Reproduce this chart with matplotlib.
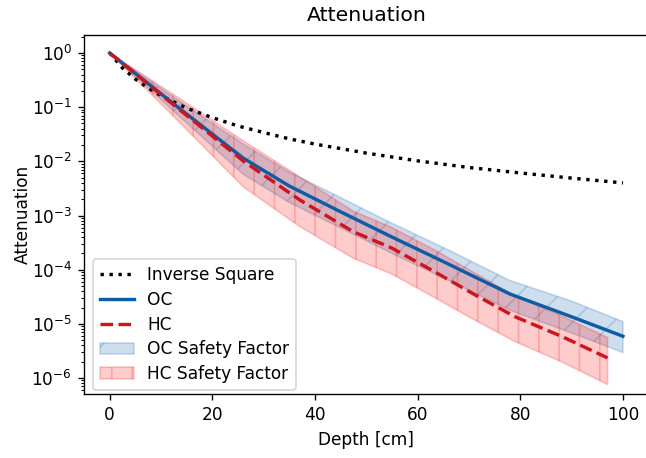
import matplotlib
matplotlib.use("Agg")
import matplotlib.pyplot as plt
from matplotlib.ticker import LogLocator

# ---- data ----
inv_depth = [0, 2.5, 5, 7.5, 10, 15, 20, 25, 30, 35, 40, 50, 60, 70, 80, 90, 100]
inv_att = [1.0, 0.53, 0.33, 0.225, 0.163, 0.096, 0.064, 0.045, 0.034, 0.026,
           0.0208, 0.0142, 0.0102, 0.0077, 0.0061, 0.0049, 0.0040]

oc_depth = [0, 13, 26, 35, 45, 55, 65, 78, 90, 100]
oc_att = [1.0, 0.105, 0.0115, 0.0035, 0.00117, 4.0e-4, 1.41e-4, 3.55e-5, 1.35e-5, 5.9e-6]
oc_upper = [1.0, 0.141, 0.0209, 0.0063, 0.00214, 7.2e-4, 2.57e-4, 6.3e-5, 2.63e-5, 1.10e-5]
oc_lower = [1.0, 0.076, 0.0058, 0.00174, 5.9e-4, 2.0e-4, 7.1e-5, 1.78e-5, 6.8e-6, 2.95e-6]

hc_depth = [0, 13, 26, 37, 47.5, 55, 63, 71.5, 79, 88, 97]
hc_att = [1.0, 0.10, 0.0102, 0.00195, 5.0e-4, 2.5e-4, 9.5e-5, 3.3e-5, 1.35e-5, 5.9e-6, 2.35e-6]
hc_upper = [1.0, 0.158, 0.024, 0.0052, 0.0012, 6.0e-4, 2.4e-4, 8.3e-5, 3.3e-5, 1.41e-5, 5.6e-6]
hc_lower = [1.0, 0.060, 0.0034, 6.3e-4, 1.62e-4, 8.3e-5, 3.16e-5, 1.12e-5, 4.7e-6, 2.0e-6, 7.6e-7]

x_ticks = [0, 20, 40, 60, 80, 100]
y_ticks = [1e0, 1e-1, 1e-2, 1e-3, 1e-4, 1e-5, 1e-6]

labels = ["Inverse Square", "OC", "HC", "OC Safety Factor", "HC Safety Factor"]

# ---- figure ----
DPI = 122
W, H = 646, 458
top_px, bot_px, left_px, right_px = 35, 394, 84, 648.6
fig = plt.figure(figsize=(W / DPI, H / DPI), dpi=DPI)
ax = fig.add_axes([left_px / W, (H - bot_px) / H, (right_px - left_px) / W, (bot_px - top_px) / H])

blue = "#0C5DA5"
red = "#D0131C"

h_inv, = ax.plot(inv_depth, inv_att, color="black", linestyle=":", lw=2, label=labels[0])
h_oc, = ax.plot(oc_depth, oc_att, color=blue, linestyle="-", lw=2, label=labels[1])
h_hc, = ax.plot(hc_depth, hc_att, color=red, linestyle="--", lw=2, label=labels[2])
f_oc = ax.fill_between(oc_depth, oc_lower, oc_upper, color=blue, alpha=0.2,
                       hatch="/", label=labels[3])
f_hc = ax.fill_between(hc_depth, hc_lower, hc_upper, color="red", alpha=0.2,
                       hatch="|", label=labels[4])

ax.set_yscale("log")
ax.set_xlim(-5, 105)
ax.set_ylim(10 ** -6.295, 10 ** 0.332)
ax.set_xticks(x_ticks)
ax.set_yticks(y_ticks)
ax.yaxis.set_minor_locator(LogLocator(base=10, subs=range(2, 10), numticks=20))
ax.set_title("Attenuation", fontsize=12, pad=8)
ax.set_xlabel("Depth [cm]")
ax.set_ylabel("Attenuation", labelpad=0)

leg_x = (93 - left_px) / (right_px - left_px)
leg_y = (bot_px - 390) / (bot_px - top_px)
ax.legend(handles=[h_inv, h_oc, h_hc, f_oc, f_hc], loc="lower left",
          bbox_to_anchor=(leg_x, leg_y), borderaxespad=0, labelspacing=0.4)

fig.savefig("out.png", dpi=DPI)
